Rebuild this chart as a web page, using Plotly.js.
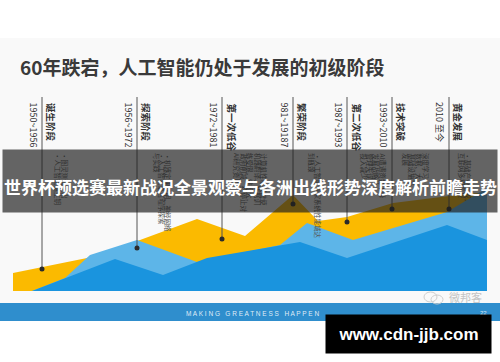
<!DOCTYPE html>
<html>
<head>
<meta charset="utf-8">
<script src="https://cdn.plot.ly/plotly-3.0.1.min.js"></script>
<style>html,body{margin:0;padding:0;background:#fff;}#chart{width:500px;height:362px;}</style>
</head>
<body>
<div id="chart"></div>
<script>
// ---- data (x = horizontal position along the timeline, values = height above baseline) ----
const yellowX = [13, 87, 140, 197, 245, 293, 318, 347, 393, 449, 487];
const yellowV = [18, 33, 51, 72, 55, 96, 70, 74, 88, 95, 99];
const lightX  = [32, 65, 90, 137, 197, 280, 307, 353, 447, 487];
const lightV  = [0, 13, 36, 51, 29, 46, 68, 51, 79, 103];
const darkX   = [32, 65, 115, 163, 207, 300, 347, 447, 487];
const darkV   = [0, 13, 32, 16, 33, 49, 33, 66, 51];

const stageX      = [42, 137, 222, 293, 347, 392, 449];
const stageDot    = [22, 43, 52, 87, 69, 82, 82];
const stageName   = ['诞生阶段', '探索阶段', '第一次低谷', '繁荣阶段', '第二次低谷', '技术突破', '黄金发展'];
const stagePeriod = ['1950~1956', '1956~1972', '1972~1981', '981~19187', '1987~1993', '1993~2010', '2010 至今'];

const noteX    = [65, 58, 168, 162, 157, 264, 258, 250, 244, 237, 318, 312, 383, 376, 370, 364, 358, 426, 419, 412, 406, 468, 462];
const noteText = [
  '•图灵测试提出', '•人工智能诞生钥',
  '•机器定理证明、神经网络', '•人工智能语言程序探索', '与实践',
  '计算机性能突破使', '机器翻译、数据训', '练受限，难度大，', '政府削减，约停止对', 'AI研究资助',
  '•人工智能专家系统性能城达', '到瓶颈',
  'AI遭遇资金下降', '发展战略计', '管理失误，', '投入减少', '',
  '深度学习', '数据、大', '基础设施等', '发展',
  '•基础产业形成，', '互联网多相布局'
];

const titleText  = '60年跌宕，人工智能仍处于发展的初级阶段';
const bannerText = '世界杯预选赛最新战况全景观察与各洲出线形势深度解析前瞻走势';
const footerText = 'M A K I N G   G R E A T N E S S   H A P P E N';
const pageNo = '22';
const siteText = 'www.cdn-jjb.com';
const wmText = '微邦客';

// ---- helpers ----
const BASE = 291;              // pixel row of the chart baseline
const v = py => BASE - py;     // pixel row -> axis value
function poly(xs, vs) {
  return { x: [xs[0]].concat(xs, [xs[xs.length - 1]]), y: [0].concat(vs, [0]) };
}
const CJK = '"Noto Sans CJK SC", "Noto Sans", sans-serif';

const traces = [];
[[yellowX, yellowV, '#FBBA00'], [lightX, lightV, '#5DB5E8'], [darkX, darkV, '#1A94DE']].forEach(s => {
  const p = poly(s[0], s[1]);
  traces.push({ type: 'scatter', mode: 'lines', x: p.x, y: p.y, fill: 'toself',
    fillcolor: s[2], line: { width: 0, color: s[2] }, hoverinfo: 'skip', showlegend: false });
});

// stage lines
const lx = [], ly = [];
stageX.forEach((x, i) => { lx.push(x, x, null); ly.push(v(97), stageDot[i], null); });
traces.push({ type: 'scatter', mode: 'lines', x: lx, y: ly, line: { color: '#555', width: 1 },
  hoverinfo: 'skip', showlegend: false });
traces.push({ type: 'scatter', mode: 'markers', x: stageX, y: stageDot,
  marker: { color: '#2a2a2a', size: 5 }, hoverinfo: 'skip', showlegend: false });

const ann = [];
// title
ann.push({ x: 18, y: v(66), xanchor: 'left', yanchor: 'middle', showarrow: false, text: '<b>' + titleText + '</b>',
  font: { family: CJK, size: 19, color: '#3a3a3a' } });
// stage labels
stageX.forEach((x, i) => {
  ann.push({ x: x + 0.5, y: v(101), xanchor: 'left', yanchor: 'top', showarrow: false, textangle: 90,
    text: '<b>' + stageName[i] + '</b>', font: { family: CJK, size: 9.5, color: '#333' } });
  ann.push({ x: x - 0.5, y: v(100), xanchor: 'right', yanchor: 'top', showarrow: false, textangle: 90,
    text: stagePeriod[i], font: { family: CJK, size: 9, color: '#333' } });
});
// small bullet notes
noteX.forEach((x, i) => {
  if (!noteText[i]) return;
  ann.push({ x: x, y: v(151), xanchor: 'center', yanchor: 'top', showarrow: false, textangle: 90,
    text: noteText[i], font: { family: CJK, size: 6.5, color: '#555' } });
});
// banner overlay box and its text
ann.push({ x: 250, y: v(181), xanchor: 'center', yanchor: 'middle', showarrow: false, text: '&nbsp;',
  width: 494, height: 62, bgcolor: 'rgba(30,30,30,0.68)', borderpad: 0, font: { size: 2 } });
ann.push({ x: 250, y: v(186), xanchor: 'center', yanchor: 'middle', showarrow: false,
  text: '<b>' + bannerText + '</b>', font: { family: CJK, size: 17, color: '#ffffff' } });
// footer texts
ann.push({ x: 252, y: v(313), xanchor: 'center', yanchor: 'middle', showarrow: false, text: footerText,
  font: { family: '"Liberation Sans", Arial, sans-serif', size: 6.5, color: 'rgba(255,255,255,0.85)' } });
ann.push({ x: 483, y: v(313), xanchor: 'center', yanchor: 'middle', showarrow: false, text: pageNo,
  font: { family: '"Liberation Sans", Arial, sans-serif', size: 6, color: 'rgba(255,255,255,0.85)' } });
// wechat watermark
ann.push({ x: 465, y: v(297), xanchor: 'center', yanchor: 'middle', showarrow: false, text: wmText,
  font: { family: CJK, size: 11, color: '#c4c4c4' } });
// site box
ann.push({ x: 408.5, y: v(334), xanchor: 'center', yanchor: 'middle', showarrow: false,
  text: '<b>' + siteText + '</b>', width: 165, height: 38, bgcolor: '#000', borderpad: 0,
  font: { family: '"Liberation Sans", Arial, sans-serif', size: 17, color: '#fff' } });

const shapes = [
  { type: 'rect', xref: 'x', yref: 'y', x0: 0, x1: 500, y0: v(38), y1: v(303), fillcolor: '#f9f9f9', line: { width: 0 }, layer: 'below' },
  { type: 'rect', xref: 'x', yref: 'y', x0: 0, x1: 500, y0: v(303), y1: v(321), fillcolor: '#2f8ecd', line: { width: 0 }, layer: 'below' },
  { type: 'circle', xref: 'x', yref: 'y', x0: 424, x1: 437, y0: v(302), y1: v(292), line: { color: '#cfcfcf', width: 1 }, layer: 'above' },
  { type: 'circle', xref: 'x', yref: 'y', x0: 431, x1: 443, y0: v(304), y1: v(295), line: { color: '#cfcfcf', width: 1 }, layer: 'above' }
];

const layout = {
  width: 500, height: 362, margin: { l: 0, r: 0, t: 0, b: 0 },
  paper_bgcolor: '#ffffff', plot_bgcolor: 'rgba(0,0,0,0)',
  xaxis: { range: [0, 500], visible: false, fixedrange: true },
  yaxis: { range: [-71, 291], visible: false, fixedrange: true },
  showlegend: false, annotations: ann, shapes: shapes
};
Plotly.newPlot('chart', traces, layout, { staticPlot: true, displayModeBar: false });
</script>
</body>
</html>
